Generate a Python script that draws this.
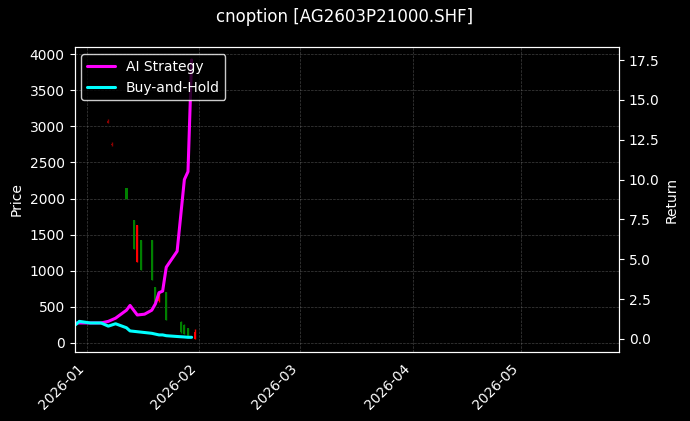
import numpy as np, pandas as pd, matplotlib
matplotlib.use("Agg")
import matplotlib.pyplot as plt, seaborn as sns, matplotlib.dates as mdates

sns.set_style("dark")
plt.style.use("dark_background")

c_dates = ["2026-01-07","2026-01-08","2026-01-12","2026-01-14","2026-01-15","2026-01-16","2026-01-19","2026-01-20","2026-01-21","2026-01-23","2026-01-27","2026-01-28","2026-01-29","2026-01-31"]
c_open  = [3080,2760,2150,1700,1630,1430,1430,775,700,700,290,250,200,150]
c_close = [3050,2740,2000,1300,1120,1010,870,550,580,320,150,130,90,60]
c_high  = [3100,2780,2150,1700,1630,1430,1430,775,700,700,300,260,210,190]
c_low   = [3040,2730,2000,1300,1120,1010,870,550,560,320,140,120,80,50]
c_color = ["#8b0000","#8b0000","green","green","red","green","green","green","red","green","green","green","green","red"]

r_dates = ["2025-12-29","2025-12-30","2026-01-02","2026-01-05","2026-01-07","2026-01-09","2026-01-12","2026-01-13","2026-01-15","2026-01-17","2026-01-19","2026-01-20","2026-01-21","2026-01-22","2026-01-23","2026-01-26","2026-01-28","2026-01-29","2026-01-30"]
ai_ret  = [1.0,1.0,1.0,1.0,1.1,1.3,1.8,2.1,1.5,1.55,1.8,2.2,2.9,3.0,4.5,5.5,10.0,10.5,17.5]
bh_ret  = [0.9,1.1,1.0,1.0,0.8,0.95,0.7,0.5,0.45,0.4,0.35,0.3,0.25,0.25,0.2,0.15,0.12,0.1,0.1]

fig, ax = plt.subplots(figsize=(6.9,4.21), dpi=100)
fig.patch.set_facecolor("black"); ax.set_facecolor("black")
cd = pd.to_datetime(c_dates)
ax.vlines(cd, c_low, c_high, colors=c_color, lw=1)
ax.bar(cd, np.array(c_close)-np.array(c_open), bottom=c_open, width=0.6, color=c_color, linewidth=0)
ax.set_ylabel("Price")
ax.grid(True, color="gray", ls="--", lw=0.5, alpha=0.5)

ax2 = ax.twinx()
rd = pd.to_datetime(r_dates)
df = pd.DataFrame({"d": rd, "ai": ai_ret, "bh": bh_ret})
sns.lineplot(data=df, x="d", y="ai", ax=ax2, color="magenta", lw=2.2, label="AI Strategy")
sns.lineplot(data=df, x="d", y="bh", ax=ax2, color="cyan", lw=2.2, label="Buy-and-Hold")
ax2.set_ylabel("Return"); ax2.set_xlabel("")
ax2.legend(loc="upper left", facecolor="black", edgecolor="white", fontsize=10)
ax.set_ylim(-125, 4096)
ax2.set_ylim(-0.82, 18.31)
x0 = mdates.date2num(pd.Timestamp("2025-12-28 16:00"))
x1 = mdates.date2num(pd.Timestamp("2026-05-28"))
ax2.set_xlim(x0, x1)
ax.xaxis.set_major_locator(mdates.MonthLocator())
ax.xaxis.set_major_formatter(mdates.DateFormatter("%Y-%m"))
plt.setp(ax.get_xticklabels(), rotation=45, ha="right")
fig.suptitle("cnoption [AG2603P21000.SHF]")
fig.subplots_adjust(left=0.108, right=0.897, top=0.888, bottom=0.164)
fig.savefig("out.png")
